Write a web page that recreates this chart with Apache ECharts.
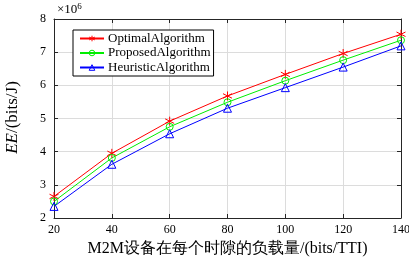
<!DOCTYPE html>
<html>
<head>
<meta charset="utf-8">
<script src="https://cdn.jsdelivr.net/npm/echarts@6/dist/echarts.min.js"></script>
<style>
  html, body { margin: 0; padding: 0; background: #fff; }
  #chart { width: 409px; height: 262px; }
</style>
</head>
<body>
<div id="chart"></div>
<script>
// payload per slot (bits/TTI)
const loads = [20, 40, 60, 80, 100, 120, 140]
// EE values in units of 1e6 bits/J
const optimal = [2.65, 3.95, 4.92, 5.68, 6.33, 6.96, 7.54]
const proposed = [2.5, 3.81, 4.75, 5.49, 6.14, 6.76, 7.36]
const heuristic = [2.35, 3.62, 4.54, 5.31, 5.93, 6.55, 7.19]
const names = ['OptimalAlgorithm', 'ProposedAlgorithm', 'HeuristicAlgorithm']
const colors = ['#ff0000', '#00ee00', '#0000ff']

const serif = 'Liberation Serif'
const axisColor = '#262626'
const star = 'path://M0,-5L0,5M-4.5,-2.5L4.5,2.5M-4.5,2.5L4.5,-2.5'

const pairs = (ys) => loads.map((x, i) => [x, ys[i]])

const mkSeries = (name, ys, color, symbol, size) => ({
  name: name,
  type: 'line',
  data: pairs(ys),
  symbol: symbol,
  symbolSize: size,
  showAllSymbol: true,
  lineStyle: { color: color, width: 1 },
  itemStyle: { color: 'transparent', borderColor: color, borderWidth: 1 },
  emphasis: { disabled: true }
})

const frameAxis = {
  axisLine: { show: true, lineStyle: { color: axisColor, width: 1 } },
  axisTick: { show: true, inside: true, length: 4, lineStyle: { color: axisColor } },
  axisLabel: { show: false },
  splitLine: { show: false }
}

const option = {
  animation: false,
  backgroundColor: '#fff',
  grid: { left: 54, right: 8, top: 19, bottom: 44, outerBoundsMode: 'none' },
  legend: {
    orient: 'vertical',
    left: 73,
    top: 30,
    itemWidth: 24,
    itemHeight: 7,
    itemGap: 1.5,
    padding: [2, 3, 2, 6],
    borderColor: '#000',
    borderWidth: 1,
    backgroundColor: '#fff',
    textStyle: { fontFamily: serif, fontSize: 13, color: '#000', padding: [0, 0, 0, -1] },
    data: names.map((n, i) => ({
      name: n,
      itemStyle: { color: 'transparent', borderColor: colors[i], borderWidth: 1 }
    }))
  },
  xAxis: [
    {
      type: 'value',
      min: 20,
      max: 140,
      interval: 20,
      name: 'M2M设备在每个时隙的负载量/(bits/TTI)',
      nameLocation: 'middle',
      nameGap: 21,
      nameTextStyle: { fontFamily: serif, fontSize: 16, color: '#000' },
      axisLine: { show: true, onZero: false, lineStyle: { color: axisColor } },
      axisTick: { show: true, inside: true, length: 4, lineStyle: { color: axisColor } },
      axisLabel: { fontFamily: serif, fontSize: 12, color: '#000', margin: 6 },
      splitLine: { show: true, lineStyle: { color: '#dcdcdc', width: 1 } }
    },
    Object.assign({ type: 'value', min: 20, max: 140, interval: 20, position: 'top' }, frameAxis)
  ],
  yAxis: [
    {
      type: 'value',
      min: 2,
      max: 8,
      interval: 1,
      name: '{i|EE}/(bits/J)',
      nameLocation: 'middle',
      nameGap: 33,
      nameRotate: 90,
      nameTextStyle: {
        fontFamily: serif, fontSize: 17, color: '#000', padding: [0, 0, 0, 2],
        rich: { i: { fontFamily: serif, fontSize: 17, fontStyle: 'italic', color: '#000' } }
      },
      axisLine: { show: true, lineStyle: { color: axisColor } },
      axisTick: { show: true, inside: true, length: 4, lineStyle: { color: axisColor } },
      axisLabel: { fontFamily: serif, fontSize: 12, color: '#000', margin: 8 },
      splitLine: { show: true, lineStyle: { color: '#dcdcdc', width: 1 } }
    },
    Object.assign({ type: 'value', min: 2, max: 8, interval: 1, position: 'right' }, frameAxis)
  ],
  graphic: [
    {
      type: 'text',
      left: 57,
      top: 2,
      style: {
        text: '×10{s|6}',
        fontFamily: serif,
        fontSize: 13,
        fill: '#000',
        rich: { s: { fontFamily: serif, fontSize: 9, verticalAlign: 'top', padding: [0, 0, 6, 0] } }
      }
    }
  ],
  series: [
    mkSeries(names[0], optimal, colors[0], star, 9),
    mkSeries(names[1], proposed, colors[1], 'circle', 7),
    mkSeries(names[2], heuristic, colors[2], 'triangle', 8)
  ]
}

const chart = echarts.init(document.getElementById('chart'), null, { renderer: 'canvas' })
chart.setOption(option)
</script>
</body>
</html>
